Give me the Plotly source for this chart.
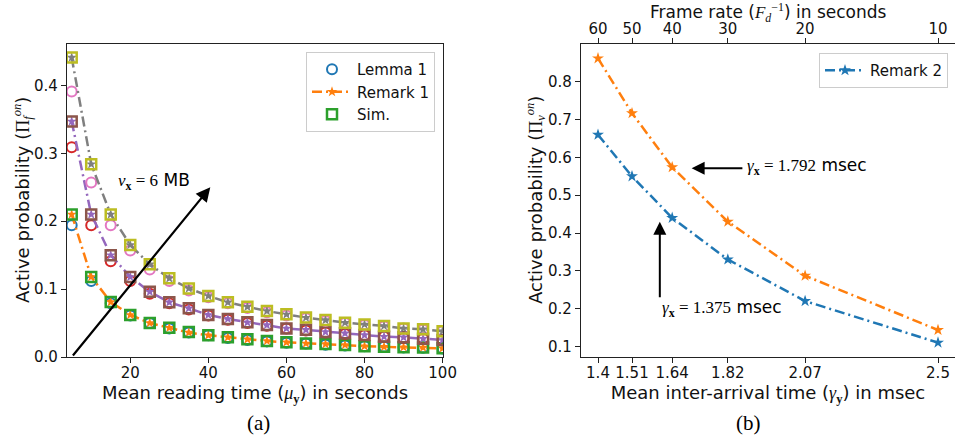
import plotly.graph_objects as go

# ---------------- data ----------------
mu_y = [5, 10, 15, 20, 25, 30, 35, 40, 45, 50, 55, 60, 65, 70, 75, 80, 85, 90, 95, 100]

lemma_v1 = [0.194, 0.112, 0.079, 0.061, 0.050, 0.042, 0.036, 0.032, 0.028, 0.025,
            0.023, 0.021, 0.020, 0.018, 0.017, 0.016, 0.015, 0.014, 0.0135, 0.0125]
remark_v1 = [0.210, 0.118, 0.081, 0.062, 0.050, 0.043, 0.036, 0.032, 0.029, 0.026,
             0.0236, 0.0216, 0.020, 0.019, 0.0177, 0.016, 0.015, 0.0144, 0.014, 0.0128]
sim_v1 = [0.210, 0.118, 0.081, 0.062, 0.050, 0.043, 0.037, 0.032, 0.029, 0.026,
          0.0236, 0.0216, 0.020, 0.019, 0.0177, 0.016, 0.015, 0.0144, 0.014, 0.0128]

lemma_v2 = [0.309, 0.194, 0.141, 0.112, 0.093, 0.079, 0.070, 0.061, 0.055, 0.050,
            0.046, 0.042, 0.039, 0.036, 0.034, 0.032, 0.030, 0.028, 0.027, 0.025]
remark_v2 = [0.347, 0.210, 0.150, 0.118, 0.096, 0.0805, 0.0717, 0.062, 0.056, 0.051,
             0.047, 0.042, 0.040, 0.037, 0.035, 0.0324, 0.030, 0.029, 0.027, 0.025]
sim_v2 = [0.347, 0.210, 0.150, 0.118, 0.096, 0.0805, 0.0717, 0.062, 0.056, 0.051,
          0.047, 0.042, 0.040, 0.037, 0.035, 0.0324, 0.030, 0.029, 0.027, 0.025]

lemma_v3 = [0.391, 0.257, 0.194, 0.157, 0.129, 0.112, 0.098, 0.088, 0.079, 0.072,
            0.066, 0.061, 0.057, 0.053, 0.050, 0.047, 0.045, 0.042, 0.040, 0.038]
remark_v3 = [0.441, 0.284, 0.210, 0.165, 0.1365, 0.116, 0.101, 0.090, 0.0805, 0.074,
             0.0677, 0.0628, 0.058, 0.0545, 0.0506, 0.048, 0.0457, 0.042, 0.0408, 0.038]
sim_v3 = [0.441, 0.284, 0.210, 0.165, 0.1365, 0.116, 0.101, 0.090, 0.0805, 0.074,
          0.0677, 0.0628, 0.058, 0.0545, 0.0506, 0.048, 0.0457, 0.042, 0.0408, 0.038]

gamma_y = [1.4, 1.51, 1.64, 1.82, 2.07, 2.5]
gamma_labels = ["1.4", "1.51", "1.64", "1.82", "2.07", "2.5"]
frame_rate_labels = ["60", "50", "40", "30", "20", "10"]
remark2_1375 = [0.66, 0.55, 0.44, 0.33, 0.22, 0.11]
remark2_1792 = [0.862, 0.717, 0.574, 0.43, 0.287, 0.1435]

left_yticks = [0.0, 0.1, 0.2, 0.3, 0.4]
left_xticks = [20, 40, 60, 80, 100]
right_yticks = [0.1, 0.2, 0.3, 0.4, 0.5, 0.6, 0.7, 0.8]

# ---------------- style ----------------
C = ["#1f77b4", "#ff7f0e", "#2ca02c", "#d62728", "#9467bd",
     "#8c564b", "#e377c2", "#7f7f7f", "#bcbd22", "#17becf"]
SANS = "DejaVu Sans"
SERIF = "Liberation Serif"
DASHDOT = "10px,4px,2px,4px"

fig = go.Figure()

groups = [(lemma_v1, remark_v1, sim_v1), (lemma_v2, remark_v2, sim_v2), (lemma_v3, remark_v3, sim_v3)]
for gi, (lem, rem, sim) in enumerate(groups):
    c0, c1, c2 = C[3 * gi], C[3 * gi + 1], C[3 * gi + 2]
    first = gi == 0
    fig.add_trace(go.Scatter(
        x=mu_y, y=lem, mode="markers", name="Lemma 1", showlegend=first,
        marker=dict(symbol="circle-open", size=10, color=c0, line=dict(width=2, color=c0)),
        xaxis="x", yaxis="y"))
    fig.add_trace(go.Scatter(
        x=mu_y, y=rem, mode="lines+markers", name="Remark 1", showlegend=first,
        line=dict(color=c1, width=2.5, dash=DASHDOT),
        marker=dict(symbol="star", size=8, color=c1),
        xaxis="x", yaxis="y"))
    fig.add_trace(go.Scatter(
        x=mu_y, y=sim, mode="markers", name="Sim.", showlegend=first,
        marker=dict(symbol="square-open", size=10, color=c2, line=dict(width=2.5, color=c2)),
        xaxis="x", yaxis="y"))

fig.add_trace(go.Scatter(
    x=gamma_y, y=remark2_1375, mode="lines+markers", name="Remark 2",
    line=dict(color=C[0], width=2.5, dash=DASHDOT),
    marker=dict(symbol="star", size=9, color=C[0]),
    xaxis="x2", yaxis="y2", legend="legend2"))
fig.add_trace(go.Scatter(
    x=gamma_y, y=remark2_1792, mode="lines+markers", name="Remark 2 (1.792)", showlegend=False,
    line=dict(color=C[1], width=2.5, dash=DASHDOT),
    marker=dict(symbol="star", size=9, color=C[1]),
    xaxis="x2", yaxis="y2"))
# invisible trace to anchor the top (frame-rate) axis
fig.add_trace(go.Scatter(
    x=gamma_y, y=remark2_1375, mode="markers", showlegend=False, hoverinfo="skip",
    marker=dict(opacity=0), xaxis="x3", yaxis="y2"))

W, H = 955, 441
yd = [1 - 357 / H, 1 - 44 / H]
ax_common = dict(showline=True, linecolor="#222", linewidth=1.2, ticks="outside", ticklen=5,
                 tickcolor="#222", tickfont=dict(family=SANS, size=15, color="#111"),
                 showgrid=False, zeroline=False, mirror=True, automargin=False)
SER = "<span style='font-family:Liberation Serif'>"

fig.update_layout(
    width=W, height=H, margin=dict(l=0, r=0, t=0, b=0, autoexpand=False),
    paper_bgcolor="white", plot_bgcolor="white",
    font=dict(family=SANS, size=15, color="#111"),
    xaxis=dict(domain=[67 / W, 443 / W], range=[3.8, 100.1], tickvals=left_xticks, ticklabelstandoff=-3,
               title=dict(text="Mean reading time (" + SER + "<i>μ</i><sub><b>y</b></sub></span>) in seconds",
                          font=dict(size=18), standoff=3),
               anchor="y", **ax_common),
    yaxis=dict(domain=yd, range=[0, 0.461], tickvals=left_yticks, tickformat=".1f",
               anchor="x", **ax_common),
    xaxis2=dict(domain=[581 / W, 1.0], range=[1.345, 2.555], tickvals=gamma_y, ticktext=gamma_labels,
                ticklabelstandoff=-3,
                title=dict(text="Mean inter-arrival time (" + SER + "<i>γ</i><sub><b>y</b></sub></span>) in msec",
                           font=dict(size=18), standoff=3),
                anchor="y2", **ax_common),
    xaxis3=dict(domain=[581 / W, 1.0], range=[1.345, 2.555], tickvals=gamma_y, ticktext=frame_rate_labels,
                ticklabelstandoff=-2,
                overlaying="x2", side="top", anchor="y2", **ax_common),
    yaxis2=dict(domain=yd, range=[0.072, 0.90], tickvals=right_yticks, tickformat=".1f",
                anchor="x2", **ax_common),
    legend=dict(x=435 / W, y=1 - 52 / H, xanchor="right", yanchor="top",
                bgcolor="rgba(255,255,255,0.9)", bordercolor="#ccc", borderwidth=1,
                font=dict(family=SANS, size=15), itemwidth=40, tracegroupgap=0),
    legend2=dict(x=948 / W, y=1 - 53 / H, xanchor="right", yanchor="top",
                 bgcolor="rgba(255,255,255,0.9)", bordercolor="#ccc", borderwidth=1,
                 font=dict(family=SANS, size=15), itemwidth=40),
)

ann = []
# axis titles drawn as annotations for exact placement
ann.append(dict(x=22 / W, y=1 - 200 / H, xref="paper", yref="paper", showarrow=False, textangle=-90,
                xanchor="center", yanchor="middle",
                text="Active probability (" + SER + "Π<sub><i>f</i></sub><sup><i>on</i></sup></span>)",
                font=dict(family=SANS, size=18, color="#111")))
ann.append(dict(x=535 / W, y=1 - 200 / H, xref="paper", yref="paper", showarrow=False, textangle=-90,
                xanchor="center", yanchor="middle",
                text="Active probability (" + SER + "Π<sub><i>v</i></sub><sup><i>on</i></sup></span>)",
                font=dict(family=SANS, size=18, color="#111")))
ann.append(dict(x=768 / W, y=1 - 12 / H, xref="paper", yref="paper", showarrow=False,
                xanchor="center", yanchor="middle",
                text="Frame rate (" + SER + "<i>F</i><sub><i>d</i></sub><sup>−1</sup></span>) in seconds",
                font=dict(family=SANS, size=17, color="#111")))
# left arrow for increasing v_x
ann.append(dict(x=40.5, y=0.25, ax=5, ay=0, xref="x", yref="y", axref="x", ayref="y",
                showarrow=True, arrowhead=2, arrowsize=1.3, arrowwidth=2.2, arrowcolor="black", text=""))
ann.append(dict(x=16.4, y=0.258, xref="x", yref="y", xanchor="left", yanchor="middle", showarrow=False,
                text=SER + "<i>v</i><sub><b>x</b></sub> = 6</span> MB",
                font=dict(family=SANS, size=17, color="black")))
# right arrows
ann.append(dict(x=1.703, y=0.571, ax=1.872, ay=0.571, xref="x2", yref="y2", axref="x2", ayref="y2",
                showarrow=True, arrowhead=2, arrowsize=1.3, arrowwidth=2, arrowcolor="black", text=""))
ann.append(dict(x=1.875, y=0.577, xref="x2", yref="y2", xanchor="left", yanchor="middle", showarrow=False,
                text=SER + "<i>γ</i><sub><b>x</b></sub> = 1.792</span> msec",
                font=dict(family=SANS, size=17, color="black")))
ann.append(dict(x=1.6, y=0.43, ax=1.6, ay=0.226, xref="x2", yref="y2", axref="x2", ayref="y2",
                showarrow=True, arrowhead=2, arrowsize=1.3, arrowwidth=2, arrowcolor="black", text=""))
ann.append(dict(x=1.6, y=0.2, xref="x2", yref="y2", xanchor="left", yanchor="middle", showarrow=False,
                text=SER + "<i>γ</i><sub><b>x</b></sub> = 1.375</span> msec",
                font=dict(family=SANS, size=17, color="black")))
# captions
ann.append(dict(x=258 / W, y=1 - 423 / H, xref="paper", yref="paper", showarrow=False,
                xanchor="center", yanchor="middle",
                text="(a)", font=dict(family=SERIF, size=21, color="black")))
ann.append(dict(x=748 / W, y=1 - 423 / H, xref="paper", yref="paper", showarrow=False,
                xanchor="center", yanchor="middle",
                text="(b)", font=dict(family=SERIF, size=21, color="black")))
fig.update_layout(annotations=ann)

fig.write_html("out.html", config={"displayModeBar": False},
               post_script="document.body.style.margin='0';document.body.style.overflow='hidden';")
